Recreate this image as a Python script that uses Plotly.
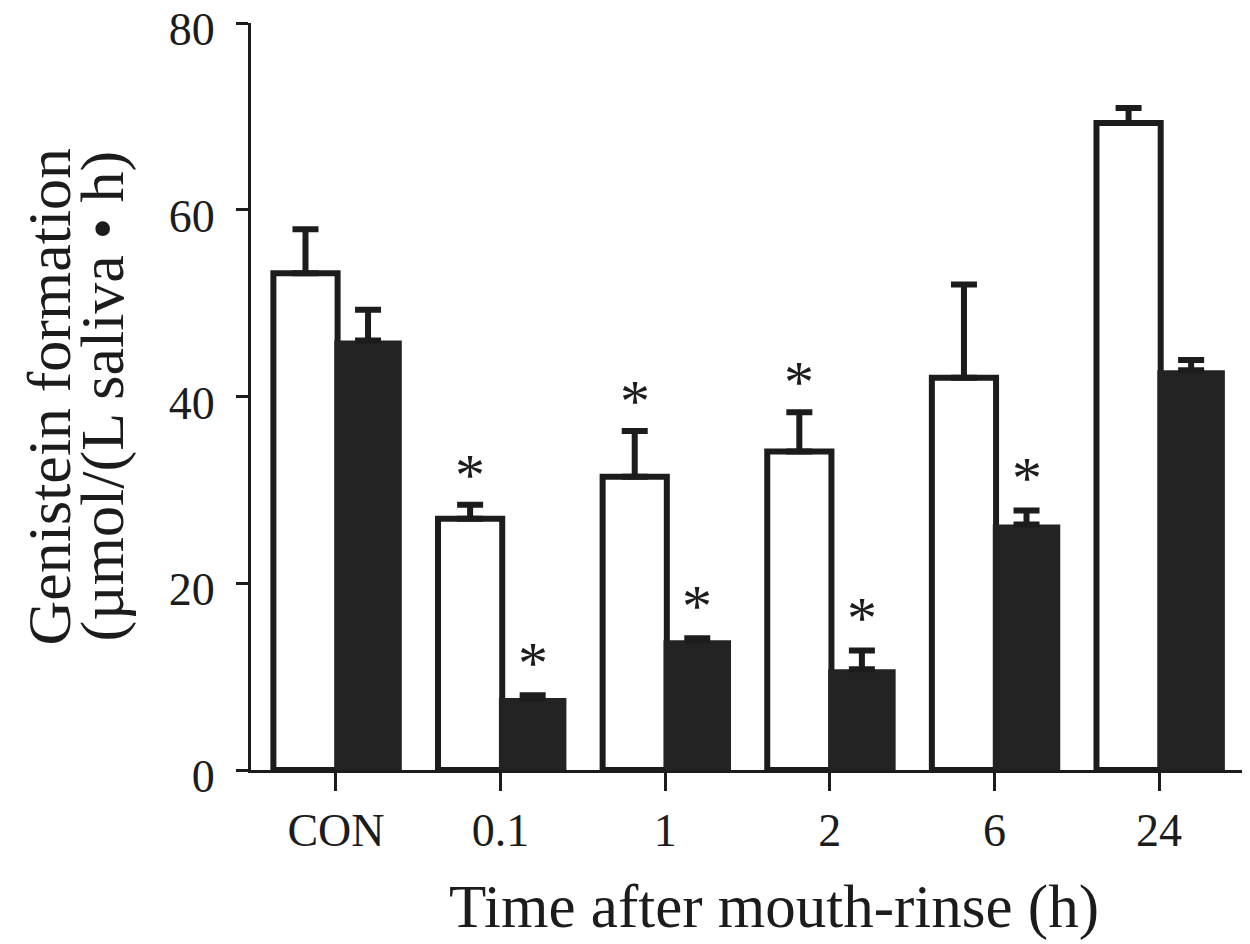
import plotly.graph_objects as go

categories = ["CON", "0.1", "1", "2", "6", "24"]
white_values = [53.2, 26.9, 31.4, 34.1, 42.0, 69.3]
white_errors = [4.7, 1.5, 4.9, 4.2, 10.0, 1.6]
black_values = [46.0, 7.7, 13.9, 10.8, 26.3, 42.8]
black_errors = [3.3, 0.3, 0.2, 2.0, 1.5, 1.1]
white_sig = [False, True, True, True, False, False]
black_sig = [False, True, True, True, True, False]
y_ticks = [0, 20, 40, 60, 80]

FONT = "Liberation Serif"
INK = "#1c1c1c"
xs = list(range(len(categories)))

W_OFF, W_W = -0.38, 0.39
B_OFF, B_W = -0.01, 0.41

fig = go.Figure()
fig.add_trace(go.Bar(
    x=xs, y=white_values, width=W_W, offset=W_OFF,
    marker=dict(color="white", line=dict(color=INK, width=6)),
    error_y=dict(type="data", array=white_errors, arrayminus=[0] * 6,
                 symmetric=False, color=INK, thickness=6, width=13),
    showlegend=False, hoverinfo="skip",
))
fig.add_trace(go.Bar(
    x=xs, y=black_values, width=B_W, offset=B_OFF,
    marker=dict(color="#232323", line=dict(color="#232323", width=0)),
    error_y=dict(type="data", array=black_errors, arrayminus=[0] * 6,
                 symmetric=False, color=INK, thickness=6, width=13),
    showlegend=False, hoverinfo="skip",
))

annotations = []
for i, x in enumerate(xs):
    if white_sig[i]:
        annotations.append(dict(x=x + W_OFF + W_W / 2, y=white_values[i] + white_errors[i],
                                xref="x", yref="y", text="*", showarrow=False,
                                yanchor="bottom", xanchor="center", yshift=-5,
                                font=dict(family=FONT, size=60, color=INK)))
    if black_sig[i]:
        annotations.append(dict(x=x + B_OFF + B_W / 2, y=black_values[i] + black_errors[i],
                                xref="x", yref="y", text="*", showarrow=False,
                                yanchor="bottom", xanchor="center", yshift=-3,
                                font=dict(family=FONT, size=60, color=INK)))

annotations.append(dict(x=0.5, y=0, xref="paper", yref="paper", xshift=27, yshift=-137,
                        text="Time after mouth-rinse (h)", showarrow=False,
                        xanchor="center", yanchor="middle",
                        font=dict(family=FONT, size=61, color=INK)))
annotations.append(dict(x=0, y=0.5, xref="paper", yref="paper", xshift=-203,
                        text="Genistein formation", showarrow=False, textangle=-90,
                        xanchor="center", yanchor="middle",
                        font=dict(family=FONT, size=62, color=INK)))
annotations.append(dict(x=0, y=0.5, xref="paper", yref="paper", xshift=-149,
                        text="(µmol/(L saliva • h)", showarrow=False, textangle=-90,
                        xanchor="center", yanchor="middle",
                        font=dict(family=FONT, size=62, color=INK)))

fig.update_layout(
    width=1250, height=944,
    margin=dict(l=251, r=8, t=23, b=174),
    paper_bgcolor="white", plot_bgcolor="white",
    barmode="overlay",
    annotations=annotations,
    xaxis=dict(range=[-0.516, 5.504], tickmode="array", tickvals=xs, ticktext=categories,
               ticks="outside", ticklen=18, tickwidth=3, tickcolor=INK,
               showline=True, linewidth=3, linecolor=INK, showgrid=False, zeroline=False,
               automargin=False, ticklabeloverflow="allow",
               tickfont=dict(family=FONT, size=46, color=INK), ticklabelstandoff=0),
    yaxis=dict(range=[0, 80], tickmode="array", tickvals=y_ticks,
               ticks="outside", ticklen=12, tickwidth=3, tickcolor=INK,
               showline=True, linewidth=3, linecolor=INK, showgrid=False, zeroline=False,
               automargin=False, ticklabeloverflow="allow", ticklabelshift=6,
               tickfont=dict(family=FONT, size=46, color=INK), ticklabelstandoff=12),
)

fig.write_html("out.html", config={"displayModeBar": False},
               post_script="document.body.style.margin='0';")
